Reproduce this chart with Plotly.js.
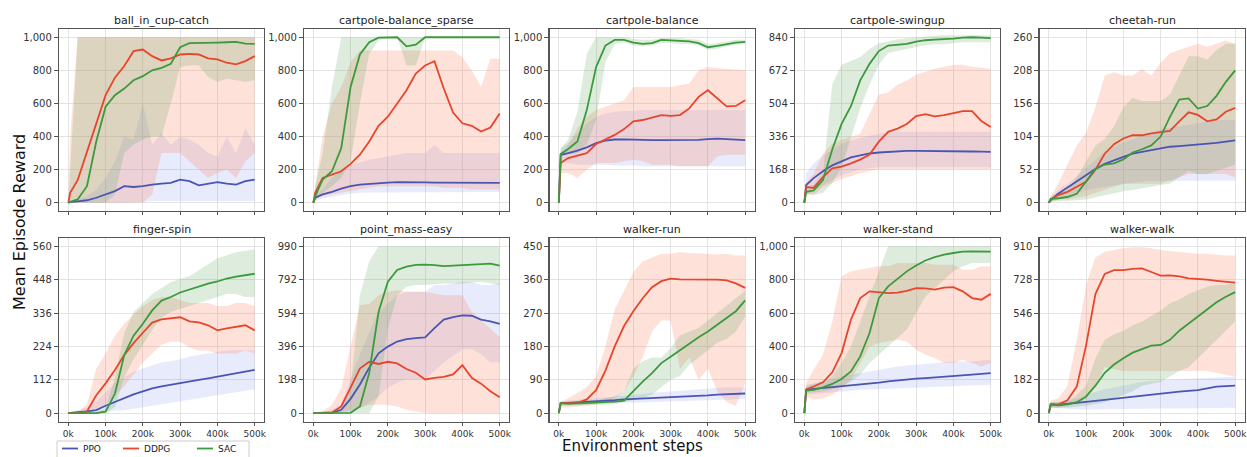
<!DOCTYPE html>
<html><head><meta charset="utf-8">
<script src="https://cdn.plot.ly/plotly-3.0.1.min.js"></script>
<style>html,body{margin:0;padding:0;background:#fff}#chart{width:1247px;height:457px}</style>
</head><body><div id="chart"></div>
<script>
// Environment steps (thousands)
const STEPS_K = [0,5,25,50,75,100,125,150,175,200,225,250,275,300,325,350,375,400,425,450,475,500];
const X_TICK_VALUES = [0,100,200,300,400,500];
const X_TICK_LABELS = ['0k','100k','200k','300k','400k','500k'];
const TASK_NAMES = ['ball_in_cup-catch','cartpole-balance_sparse','cartpole-balance','cartpole-swingup','cheetah-run',
                    'finger-spin','point_mass-easy','walker-run','walker-stand','walker-walk'];
const METHOD_NAMES = ['PPO','DDPG','SAC'];

// y tick values per task
const ballTicks = [0,200,400,600,800,1000];
const sparseTicks = [0,200,400,600,800,1000];
const balanceTicks = [0,200,400,600,800,1000];
const swingupTicks = [0,168,336,504,672,840];
const cheetahTicks = [0,52,104,156,208,260];
const fingerTicks = [0,112,224,336,448,560];
const pointTicks = [0,198,396,594,792,990];
const runTicks = [0,90,180,270,360,450];
const standTicks = [0,200,400,600,800,1000];
const walkTicks = [0,182,364,546,728,910];

// ball_in_cup-catch
const ballPPO   = [0,3,8,15,30,50,70,100,95,100,110,115,120,140,130,105,115,125,115,110,130,140];
const ballPPOlo = [0,0,0,0,0,0,0,0,5,5,10,10,10,10,10,10,10,10,10,10,10,10];
const ballPPOhi = [0,10,20,40,80,150,250,400,380,600,350,420,350,400,380,350,300,280,400,300,450,350];
const ballDDPG   = [0,60,136,300,478,650,756,826,916,926,886,860,872,896,900,896,872,866,846,836,856,886];
const ballDDPGlo = [0,0,0,0,0,0,0,0,0,0,50,300,300,300,250,200,150,180,200,150,250,300];
const ballDDPGhi = [0,400,1000,1000,1000,1000,1000,1000,1000,1000,1000,1000,1000,1000,1000,1000,1000,1000,1000,1000,1000,1000];
const ballSAC   = [0,5,20,100,370,580,650,690,740,765,800,815,840,940,965,965,965,968,970,972,962,960];
const ballSAClo = [0,0,0,0,0,0,50,300,350,380,400,400,600,820,830,830,760,730,750,740,730,740];
const ballSAChi = [0,200,1000,1000,1000,1000,1000,1000,1000,1000,1000,1000,1000,1000,1000,1000,1000,1000,1000,1000,1000,1000];

// cartpole-balance_sparse
const sparsePPO   = [0,30,50,65,85,100,110,115,120,122,124,125,124,123,122,122,121,120,120,120,120,120];
const sparsePPOlo = [0,10,25,35,45,55,60,62,65,65,65,65,65,65,65,65,65,65,65,65,65,65];
const sparsePPOhi = [0,50,80,150,200,230,245,260,270,280,290,300,300,300,350,300,300,300,300,300,300,300];
const sparseDDPG   = [0,60,150,170,190,235,290,370,465,520,600,680,780,830,855,690,545,480,465,430,455,540];
const sparseDDPGlo = [0,20,40,50,60,70,80,90,100,100,100,100,100,100,100,90,90,90,80,80,80,80];
const sparseDDPGhi = [0,100,400,600,700,850,920,920,920,920,920,920,920,920,920,920,920,880,800,700,870,870];
const sparseSAC   = [0,40,140,190,330,700,896,970,998,1000,1000,945,955,1000,1000,1000,1000,1000,1000,1000,1000,1000];
const sparseSAClo = [0,10,60,100,150,250,600,900,980,1000,1000,830,830,1000,1000,1000,1000,1000,1000,1000,1000,1000];
const sparseSAChi = [0,100,300,700,1000,1000,1000,1000,1000,1000,1000,1000,1000,1000,1000,1000,1000,1000,1000,1000,1000,1000];

// cartpole-balance
const balancePPO   = [0,290,300,315,335,360,375,382,383,380,378,378,378,378,378,378,380,385,388,385,380,378];
const balancePPOlo = [0,250,240,230,230,230,230,225,225,225,220,220,220,220,220,220,220,220,220,220,220,220];
const balancePPOhi = [0,330,360,420,480,520,540,550,555,555,560,560,560,560,560,560,560,560,560,560,560,560];
const balanceDDPG   = [0,240,270,283,300,355,383,410,445,492,500,515,530,525,530,570,640,680,630,582,585,620];
const balanceDDPGlo = [0,180,180,150,200,240,240,240,250,260,250,230,230,230,220,220,220,220,280,290,290,290];
const balanceDDPGhi = [0,300,350,450,520,560,580,600,620,700,700,700,700,700,710,720,800,820,815,810,805,800];
const balanceSAC   = [0,295,325,370,560,820,950,984,984,968,960,965,984,980,978,975,965,940,948,960,968,972];
const balanceSAClo = [0,280,290,300,350,500,850,960,970,950,945,950,965,965,960,960,950,925,930,945,955,960];
const balanceSAChi = [0,330,380,550,900,1000,1000,1000,1000,990,985,985,995,995,995,990,985,960,965,975,985,985];

// cartpole-swingup
const swingupPPO   = [0,90,125,160,190,212,230,241,250,255,258,262,263,263,263,263,263,263,262,260,259,258];
const swingupPPOlo = [0,40,60,90,115,140,155,170,175,180,180,180,180,180,180,180,180,180,180,180,180,180];
const swingupPPOhi = [0,150,200,240,270,300,315,330,340,350,355,360,360,360,360,360,360,360,360,360,360,360];
const swingupDDPG   = [0,80,75,130,175,183,200,219,245,310,360,376,400,440,450,438,445,455,465,465,415,385];
const swingupDDPGlo = [0,50,40,80,100,120,135,150,160,170,170,170,170,170,170,170,170,170,170,170,170,170];
const swingupDDPGhi = [0,100,150,250,300,320,335,350,450,550,560,600,620,650,665,680,690,700,700,690,685,680];
const swingupSAC   = [0,55,62,115,270,400,490,621,705,770,798,802,806,818,825,828,830,833,838,840,838,836];
const swingupSAClo = [0,40,40,50,100,180,330,480,600,700,760,770,780,790,800,805,805,810,815,815,815,815];
const swingupSAChi = [0,80,90,150,600,700,720,740,780,810,820,830,835,840,845,848,850,850,850,850,850,850];

// cheetah-run
const cheetahPPO   = [0,4,14,24,33,44,53,61,67,72,77,80,83,86,88,89,90,91,92,94,96,98];
const cheetahPPOlo = [0,1,5,10,15,20,22,25,27,30,32,33,34,35,35,35,35,35,35,35,35,35];
const cheetahPPOhi = [0,8,20,30,42,55,68,80,88,95,100,105,110,115,118,120,122,125,128,130,130,130];
const cheetahDDPG   = [0,5,12,17,25,33,52,77,92,101,106,106,109,111,113,128,142,138,128,131,143,149];
const cheetahDDPGlo = [0,1,5,5,8,10,15,20,25,30,30,30,30,30,35,40,45,45,45,45,45,40];
const cheetahDDPGhi = [0,10,30,60,90,110,150,200,205,200,200,210,200,220,235,240,245,250,245,250,255,250];
const cheetahSAC   = [0,6,7,9,14,34,53,60,62,68,79,84,90,104,135,162,164,148,152,168,190,208];
const cheetahSAClo = [0,2,3,3,4,5,8,12,15,18,20,22,25,28,30,40,50,45,45,50,55,60];
const cheetahSAChi = [0,10,15,20,40,65,90,100,120,150,165,160,160,160,170,200,230,230,225,240,250,250];

// finger-spin
const fingerPPO   = [0,1,3,6,10,25,38,50,63,73,83,90,96,101,106,112,117,123,128,134,139,145];
const fingerPPOlo = [0,0,0,0,2,5,8,10,15,20,25,30,35,40,45,50,55,60,65,70,75,80];
const fingerPPOhi = [0,3,10,20,40,70,100,120,140,150,160,170,175,180,190,195,200,205,210,212,212,210];
const fingerDDPG   = [0,0,1,6,60,100,145,195,235,270,304,315,318,322,308,305,295,278,285,290,295,278];
const fingerDDPGlo = [0,0,0,0,10,30,60,90,130,170,200,230,240,240,220,210,210,200,200,200,210,200];
const fingerDDPGhi = [0,0,3,30,150,200,260,300,330,360,380,390,390,380,370,370,370,360,360,370,370,360];
const fingerSAC   = [0,0,0,0,0,5,65,195,260,300,345,378,390,405,415,425,435,442,452,458,463,468];
const fingerSAClo = [0,0,0,0,0,0,20,120,180,230,280,320,340,350,360,370,380,390,400,400,390,390];
const fingerSAChi = [0,0,0,2,5,15,120,270,340,370,400,420,440,450,460,480,500,520,530,540,545,550];

// point_mass-easy
const pointPPO   = [0,0,0,2,20,85,170,270,355,395,425,440,445,450,505,555,570,580,578,555,545,530];
const pointPPOlo = [0,0,0,0,0,10,30,60,100,150,180,200,200,200,250,300,340,380,380,350,300,300];
const pointPPOhi = [0,0,5,20,50,200,350,480,600,650,700,720,720,720,760,760,770,780,780,760,760,770];
const pointDDPG   = [0,0,0,4,40,150,265,305,292,305,295,262,240,200,210,215,230,285,210,175,130,95];
const pointDDPGlo = [0,0,0,0,5,20,30,50,50,50,40,20,10,0,0,0,0,0,0,0,0,0];
const pointDDPGhi = [0,0,10,50,150,400,640,650,700,720,730,720,720,720,710,700,700,700,600,550,500,450];
const pointSAC   = [0,0,0,0,0,2,40,240,600,780,850,870,880,882,878,872,875,880,882,885,887,875];
const pointSAClo = [0,0,0,0,0,0,0,0,100,500,700,750,760,760,765,770,770,770,775,780,770,760];
const pointSAChi = [0,0,0,5,20,150,700,900,990,990,990,990,990,990,990,990,990,990,990,990,990,990];

// walker-run
const runPPO   = [0,27,28,29,31,32,34,35,37,38,40,41,43,44,45,46,47,48,50,51,52,53];
const runPPOlo = [0,22,22,23,24,25,26,27,28,28,29,30,31,32,33,34,34,35,36,37,37,38];
const runPPOhi = [0,32,34,36,38,40,42,45,47,50,52,55,57,60,62,64,66,68,69,70,70,70];
const runDDPG   = [0,27,27,28,37,62,115,180,235,275,310,340,356,363,361,361,361,360,360,358,350,338];
const runDDPGlo = [0,15,15,18,20,25,30,40,60,100,150,220,250,250,120,150,90,120,60,30,20,80];
const runDDPGhi = [0,30,40,55,70,100,180,280,330,380,410,420,430,430,435,432,430,430,428,430,425,425];
const runSAC   = [0,27,25,26,27,28,29,31,34,60,85,108,135,152,170,188,205,220,238,255,275,304];
const runSAClo = [0,20,20,21,21,22,23,25,28,35,40,50,70,90,100,130,150,170,190,200,220,260];
const runSAChi = [0,30,32,33,34,35,40,45,60,120,140,150,150,175,210,220,230,250,270,290,310,330];

// walker-stand
const standPPO   = [0,140,145,150,158,163,168,172,177,183,190,196,203,207,210,215,218,223,228,231,235,240];
const standPPOlo = [0,110,115,120,125,130,135,140,142,145,148,150,152,155,158,160,160,162,165,165,168,170];
const standPPOhi = [0,170,180,190,205,220,230,240,250,260,270,280,285,290,295,300,305,310,310,310,315,320];
const standDDPG   = [0,143,160,185,245,360,560,690,730,725,720,722,733,750,748,740,752,755,730,690,680,715];
const standDDPGlo = [0,100,80,90,110,150,200,300,400,420,430,440,430,380,350,330,300,300,320,300,280,300];
const standDDPGhi = [0,180,260,350,550,820,850,860,870,880,880,900,900,900,900,890,890,890,860,860,880,880];
const standSAC   = [0,135,140,155,175,205,250,340,480,690,760,805,850,885,915,935,950,960,968,970,970,968];
const standSAClo = [0,120,125,130,140,160,190,230,300,350,400,450,500,600,700,750,800,850,880,900,900,900];
const standSAChi = [0,160,175,190,220,300,400,550,700,850,1000,1000,1000,1000,1000,1000,1000,1000,1000,1000,1000,1000];

// walker-walk
const walkPPO   = [0,46,46,50,55,62,67,73,78,82,88,95,102,108,112,118,122,126,135,145,148,150];
const walkPPOlo = [0,30,28,25,22,20,20,20,20,20,22,22,24,25,26,28,28,30,30,30,30,30];
const walkPPOhi = [0,60,65,70,80,100,115,130,140,150,160,170,175,180,182,185,188,190,192,195,198,200];
const walkDDPG   = [0,50,47,70,145,370,650,760,780,780,787,790,770,750,752,746,735,733,728,722,719,712];
const walkDDPGlo = [0,30,30,40,50,80,150,250,240,230,230,230,230,230,230,230,230,230,230,220,210,200];
const walkDDPGhi = [0,70,80,150,400,700,850,880,890,900,905,905,900,890,885,880,875,870,870,865,860,860];
const walkSAC   = [0,45,42,48,60,90,150,220,265,300,330,350,368,372,400,450,490,530,570,605,635,660];
const walkSAClo = [0,30,30,30,35,40,50,60,80,100,120,150,160,170,200,230,250,300,350,400,450,500];
const walkSAChi = [0,60,60,60,100,150,300,400,430,450,480,500,530,560,600,620,650,670,690,700,700,710];

// ---- assembly ----
const TASK_SERIES = [
  {ticks: ballTicks,    m: [[ballPPO,ballPPOlo,ballPPOhi],[ballDDPG,ballDDPGlo,ballDDPGhi],[ballSAC,ballSAClo,ballSAChi]]},
  {ticks: sparseTicks,  m: [[sparsePPO,sparsePPOlo,sparsePPOhi],[sparseDDPG,sparseDDPGlo,sparseDDPGhi],[sparseSAC,sparseSAClo,sparseSAChi]]},
  {ticks: balanceTicks, m: [[balancePPO,balancePPOlo,balancePPOhi],[balanceDDPG,balanceDDPGlo,balanceDDPGhi],[balanceSAC,balanceSAClo,balanceSAChi]]},
  {ticks: swingupTicks, m: [[swingupPPO,swingupPPOlo,swingupPPOhi],[swingupDDPG,swingupDDPGlo,swingupDDPGhi],[swingupSAC,swingupSAClo,swingupSAChi]]},
  {ticks: cheetahTicks, m: [[cheetahPPO,cheetahPPOlo,cheetahPPOhi],[cheetahDDPG,cheetahDDPGlo,cheetahDDPGhi],[cheetahSAC,cheetahSAClo,cheetahSAChi]]},
  {ticks: fingerTicks,  m: [[fingerPPO,fingerPPOlo,fingerPPOhi],[fingerDDPG,fingerDDPGlo,fingerDDPGhi],[fingerSAC,fingerSAClo,fingerSAChi]]},
  {ticks: pointTicks,   m: [[pointPPO,pointPPOlo,pointPPOhi],[pointDDPG,pointDDPGlo,pointDDPGhi],[pointSAC,pointSAClo,pointSAChi]]},
  {ticks: runTicks,     m: [[runPPO,runPPOlo,runPPOhi],[runDDPG,runDDPGlo,runDDPGhi],[runSAC,runSAClo,runSAChi]]},
  {ticks: standTicks,   m: [[standPPO,standPPOlo,standPPOhi],[standDDPG,standDDPGlo,standDDPGhi],[standSAC,standSAClo,standSAChi]]},
  {ticks: walkTicks,    m: [[walkPPO,walkPPOlo,walkPPOhi],[walkDDPG,walkDDPGlo,walkDDPGhi],[walkSAC,walkSAClo,walkSAChi]]}
];

const LINE_COLORS = ['#4a55b3','#e8452c','#3c9a3c'];
const BAND_COLORS = ['rgba(120,135,230,0.17)','rgba(250,125,85,0.22)','rgba(85,160,85,0.20)'];

const W = 1247, H = 457;
const px = v => v / W;
const py = v => 1 - v / H;
const COL_LEFT = [59, 304, 549.5, 795, 1039.5];
const PLOT_W = 205;
const ROW_TOP = [29, 238];
const ROW_BOT = [211, 421.5];
const FONT = 'DejaVu Sans, Arial, sans-serif';

const traces = [];
const layout = {
  width: W, height: H, margin: {l:0, r:0, t:0, b:0},
  paper_bgcolor: '#fff', plot_bgcolor: '#fff', showlegend: false,
  annotations: [], shapes: []
};

TASK_SERIES.forEach((task, i) => {
  const row = i < 5 ? 0 : 1, col = i % 5;
  const xa = i === 0 ? 'x' : 'x' + (i + 1);
  const ya = i === 0 ? 'y' : 'y' + (i + 1);
  const xKey = i === 0 ? 'xaxis' : 'xaxis' + (i + 1);
  const yKey = i === 0 ? 'yaxis' : 'yaxis' + (i + 1);
  const yMax = task.ticks[task.ticks.length - 1];
  const common = {
    showline: true, mirror: true, linecolor: '#555', linewidth: 1.2,
    showgrid: true, gridcolor: '#dddddd', gridwidth: 0.8, zeroline: false,
    ticks: 'outside', ticklen: 4, tickwidth: 1, tickcolor: '#555',
    tickfont: {family: FONT, size: 10, color: '#333'}, fixedrange: true,
    ticklabeloverflow: 'allow'
  };
  layout[xKey] = Object.assign({}, common, {
    domain: [px(COL_LEFT[col]), px(COL_LEFT[col] + PLOT_W)],
    anchor: ya, range: [-25, 525], ticklen: 3,
    tickfont: {family: FONT, size: 9, color: '#333'},
    tickmode: 'array', tickvals: X_TICK_VALUES, ticktext: X_TICK_LABELS,
    showticklabels: row === 1
  });
  layout[yKey] = Object.assign({}, common, {
    domain: [py(ROW_BOT[row]), py(ROW_TOP[row])],
    anchor: xa, range: [-0.05 * yMax, 1.05 * yMax],
    tickmode: 'array', tickvals: task.ticks, tickformat: ','
  });
  // bands
  task.m.forEach((s, k) => {
    const [mean, lo, hi] = s;
    traces.push({
      x: STEPS_K.concat(STEPS_K.slice().reverse()),
      y: hi.concat(lo.slice().reverse()),
      xaxis: xa, yaxis: ya, mode: 'lines', fill: 'toself',
      fillcolor: BAND_COLORS[k], line: {width: 0}, hoverinfo: 'skip'
    });
  });
  // mean lines
  task.m.forEach((s, k) => {
    traces.push({
      x: STEPS_K, y: s[0], xaxis: xa, yaxis: ya, mode: 'lines',
      name: METHOD_NAMES[k], line: {color: LINE_COLORS[k], width: 1.8}
    });
  });
  // subplot title
  layout.annotations.push({
    text: TASK_NAMES[i], xref: 'paper', yref: 'paper',
    x: px(COL_LEFT[col] + PLOT_W / 2), y: py(ROW_TOP[row] - 9),
    xanchor: 'center', yanchor: 'middle', showarrow: false,
    font: {family: FONT, size: 11, color: '#222'}
  });
});

// shared axis titles
layout.annotations.push({
  text: 'Environment steps', xref: 'paper', yref: 'paper',
  x: px(632), y: 0, xanchor: 'center', yanchor: 'bottom', showarrow: false,
  font: {family: FONT, size: 15, color: '#111'}
});
layout.annotations.push({
  text: 'Mean Episode Reward', xref: 'paper', yref: 'paper', textangle: -90,
  x: px(19), y: py(222), xanchor: 'center', yanchor: 'middle', showarrow: false,
  font: {family: FONT, size: 16, color: '#111'}
});

// legend (drawn manually)
layout.shapes.push({type: 'rect', xref: 'paper', yref: 'paper',
  x0: px(57), x1: px(249), y0: py(441), y1: py(470),
  line: {color: '#cccccc', width: 1}, fillcolor: 'rgba(255,255,255,0.8)'});
const LEG_LINE_X = [62, 123, 197];
METHOD_NAMES.forEach((name, k) => {
  layout.shapes.push({type: 'line', xref: 'paper', yref: 'paper',
    x0: px(LEG_LINE_X[k]), x1: px(LEG_LINE_X[k] + 16), y0: py(448.5), y1: py(448.5),
    line: {color: LINE_COLORS[k], width: 1.8}});
  layout.annotations.push({text: name, xref: 'paper', yref: 'paper',
    x: px(LEG_LINE_X[k] + 19), y: py(448.5), xanchor: 'left', yanchor: 'middle',
    showarrow: false, font: {family: FONT, size: 9, color: '#222'}});
});

Plotly.newPlot('chart', traces, layout, {staticPlot: true, displayModeBar: false});
</script>
</body></html>
